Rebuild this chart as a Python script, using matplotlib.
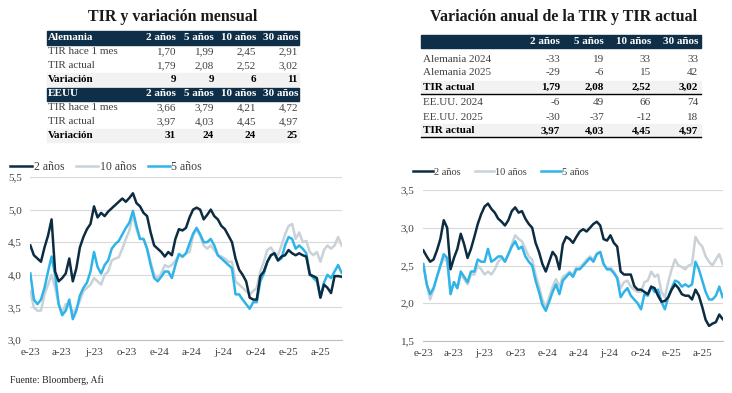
import numpy as np
import pandas as pd
import matplotlib
matplotlib.use('Agg')
import matplotlib.pyplot as plt
from matplotlib.patches import Rectangle
from matplotlib.lines import Line2D

# ---- tables ----
plazos = ['2 años', '5 años', '10 años', '30 años']
ale_hace = [1.70, 1.99, 2.45, 2.91]
ale_actual = [1.79, 2.08, 2.52, 3.02]
ale_var = [9, 9, 6, 11]
us_hace = [3.66, 3.79, 4.21, 4.72]
us_actual = [3.97, 4.03, 4.45, 4.97]
us_var = [31, 24, 24, 25]

ale_2024 = [-33, 19, 33, 33]
ale_2025 = [-29, -6, 15, 42]
us_2024 = [-6, 49, 66, 74]
us_2025 = [-30, -37, -12, 18]

# ---- series (one value every 10 days from 2 Jan 2023) ----
fechas = pd.date_range('2023-01-02', periods=89, freq='10D')

us_2y = [4.45, 4.30, 4.25, 4.20, 4.42, 4.60, 4.85, 4.05, 3.90, 3.95,
         4.02, 4.25, 3.90, 4.10, 4.42, 4.58, 4.70, 4.78, 5.05, 4.88,
         4.95, 4.90, 4.97, 5.02, 5.07, 5.12, 5.17, 5.12, 5.18, 5.25,
         5.10, 5.05, 4.95, 4.90, 4.65, 4.45, 4.40, 4.35, 4.28, 4.35,
         4.30, 4.55, 4.70, 4.68, 4.72, 4.88, 5.00, 5.03, 5.00, 4.85,
         4.92, 5.00, 4.90, 4.85, 4.75, 4.70, 4.60, 4.50, 4.25, 4.08,
         4.00, 3.90, 3.65, 3.62, 3.62, 3.98, 4.05, 4.20, 4.30, 4.33,
         4.22, 4.28, 4.30, 4.38, 4.33, 4.30, 4.33, 4.30, 4.28, 4.00,
         3.98, 3.95, 3.65, 3.85, 3.80, 3.72, 3.98, 3.98, 3.97]
us_5y = [4.02, 3.62, 3.55, 3.62, 3.80, 4.05, 4.28, 4.00, 3.55, 3.38,
         3.45, 3.62, 3.32, 3.45, 3.68, 3.80, 3.88, 4.05, 4.35, 4.12,
         4.02, 4.15, 4.22, 4.40, 4.47, 4.52, 4.62, 4.72, 4.80, 4.98,
         4.75, 4.55, 4.55, 4.40, 4.15, 3.95, 3.90, 3.97, 4.05, 4.05,
         3.95, 4.15, 4.32, 4.28, 4.33, 4.48, 4.63, 4.72, 4.62, 4.50,
         4.50, 4.55, 4.45, 4.30, 4.25, 4.20, 4.15, 4.10, 3.70, 3.70,
         3.62, 3.55, 3.48, 3.58, 3.58, 3.90, 4.02, 4.20, 4.30, 4.33,
         4.22, 4.25, 4.45, 4.58, 4.55, 4.40, 4.45, 4.40, 4.33, 4.02,
         3.95, 3.90, 3.65, 3.88, 4.00, 3.95, 4.05, 4.15, 4.03]
us_10y = [3.75, 3.50, 3.45, 3.45, 3.70, 3.85, 4.00, 3.80, 3.55, 3.42,
          3.55, 3.55, 3.42, 3.48, 3.60, 3.75, 3.80, 3.85, 3.95, 3.90,
          3.85, 4.00, 4.05, 4.22, 4.25, 4.27, 4.40, 4.55, 4.68, 4.93,
          4.70, 4.55, 4.55, 4.40, 4.20, 4.00, 3.95, 4.02, 4.15, 4.12,
          4.15, 4.22, 4.30, 4.27, 4.33, 4.35, 4.60, 4.70, 4.60, 4.45,
          4.40, 4.45, 4.38, 4.30, 4.28, 4.25, 4.20, 4.20, 3.90, 3.85,
          3.80, 3.75, 3.70, 3.75, 3.80, 4.05, 4.20, 4.38, 4.42, 4.33,
          4.30, 4.45, 4.62, 4.75, 4.78, 4.55, 4.65, 4.50, 4.52, 4.35,
          4.30, 4.35, 4.20, 4.38, 4.45, 4.40, 4.45, 4.58, 4.45]

de_2y = [2.70, 2.62, 2.55, 2.58, 2.70, 2.85, 3.10, 3.00, 2.45, 2.60,
         2.72, 2.92, 2.78, 2.60, 2.72, 2.88, 3.05, 3.18, 3.28, 3.32,
         3.25, 3.20, 3.12, 3.08, 3.03, 3.10, 3.22, 3.27, 3.20, 3.22,
         3.12, 3.05, 3.00, 2.80, 2.68, 2.52, 2.42, 2.55, 2.68, 2.62,
         2.45, 2.78, 2.88, 2.85, 2.80, 2.88, 2.95, 2.98, 2.95, 3.00,
         3.05, 3.08, 3.03, 2.85, 2.83, 2.90, 2.80, 2.75, 2.42, 2.38,
         2.38, 2.38, 2.23, 2.18, 2.18, 2.15, 2.12, 2.22, 2.20, 2.10,
         2.02, 2.03, 2.08, 2.18, 2.25, 2.20, 2.12, 2.10, 2.10, 2.05,
         2.18, 2.10, 1.95, 1.78, 1.70, 1.73, 1.75, 1.85, 1.79]
de_5y = [2.52, 2.25, 2.12, 2.20, 2.35, 2.50, 2.65, 2.60, 2.12, 2.28,
         2.20, 2.42, 2.35, 2.28, 2.42, 2.42, 2.58, 2.55, 2.55, 2.72,
         2.55, 2.58, 2.62, 2.62, 2.55, 2.65, 2.75, 2.82, 2.72, 2.75,
         2.62, 2.55, 2.50, 2.30, 2.15, 1.98, 1.90, 2.02, 2.15, 2.25,
         2.12, 2.30, 2.35, 2.40, 2.35, 2.45, 2.45, 2.50, 2.55, 2.60,
         2.55, 2.65, 2.68, 2.52, 2.45, 2.45, 2.40, 2.33, 2.08, 2.15,
         2.20, 2.10, 2.05, 2.00, 1.92, 2.12, 2.10, 2.22, 2.15, 2.18,
         2.02, 1.92, 2.08, 2.20, 2.30, 2.28, 2.22, 2.25, 2.22, 2.25,
         2.55, 2.45, 2.30, 2.15, 2.05, 2.05, 2.10, 2.22, 2.08]
de_10y = [2.50, 2.25, 2.05, 2.18, 2.35, 2.48, 2.60, 2.55, 2.15, 2.28,
          2.20, 2.38, 2.32, 2.25, 2.38, 2.38, 2.50, 2.45, 2.38, 2.42,
          2.38, 2.45, 2.55, 2.60, 2.55, 2.65, 2.78, 2.90, 2.85, 2.82,
          2.72, 2.62, 2.58, 2.38, 2.22, 2.05, 1.95, 2.08, 2.22, 2.32,
          2.22, 2.35, 2.38, 2.42, 2.38, 2.48, 2.48, 2.52, 2.58, 2.62,
          2.58, 2.66, 2.68, 2.52, 2.45, 2.47, 2.42, 2.35, 2.20, 2.28,
          2.30, 2.22, 2.18, 2.15, 2.15, 2.28, 2.30, 2.42, 2.35, 2.38,
          2.15, 2.08, 2.28, 2.45, 2.58, 2.50, 2.48, 2.45, 2.50, 2.52,
          2.88, 2.80, 2.75, 2.62, 2.55, 2.50, 2.58, 2.65, 2.52]

c_2y = '#0c2c42'
c_10y = '#c9d2d9'
c_5y = '#2fb4e9'
c_head = '#0f2e47'
c_band = '#f2f2f2'
c_txt = '#404040'
serif = 'Liberation Serif'
fs_tab = 8

W, H = 732, 393
fig = plt.figure(figsize=(W / 100, H / 100), dpi=100)


def fx(x):
    return x / W


def fy(y):
    return 1 - y / H


def rect(x0, y0, x1, y1, color):
    fig.patches.append(Rectangle((fx(x0), fy(y1)), fx(x1) - fx(x0), fy(y0) - fy(y1),
                                 transform=fig.transFigure, color=color, zorder=0))


def fmt(v):
    return f'{v:.2f}'.replace('.', ',')


# ---- left table ----
fig.text(fx(173), fy(17), 'TIR y variación mensual', ha='center', va='center',
         fontsize=11.5, fontweight='bold', family=serif, color='#1a1a1a')
cols_l = [176, 214, 256, 298]
bloques = [('Alemania', ale_hace, ale_actual, ale_var, 38),
           ('EEUU', us_hace, us_actual, us_var, 94)]
for nombre, hace, actual, var, yh in bloques:
    rect(47, yh - 6.5, 299, yh + 6.5, c_head)
    fig.text(fx(48), fy(yh), nombre, ha='left', va='center', fontsize=fs_tab,
             fontweight='bold', family=serif, color='white')
    for c, p in zip(cols_l, plazos):
        fig.text(fx(c), fy(yh), p, ha='right', va='center', fontsize=fs_tab,
                 fontweight='bold', family=serif, color='white')
    rect(47, yh + 35, 299, yh + 48, c_band)
    filas = [('TIR hace 1 mes', [fmt(v) for v in hace], 'normal', c_txt, yh + 14),
             ('TIR actual', [fmt(v) for v in actual], 'normal', c_txt, yh + 28),
             ('Variación', [str(v) for v in var], 'bold', 'black', yh + 41.5)]
    for lab, vals, fw, col, yy in filas:
        fig.text(fx(48), fy(yy), lab, ha='left', va='center', fontsize=fs_tab,
                 fontweight=fw, family=serif, color=col)
        for c, v in zip(cols_l, vals):
            fig.text(fx(c), fy(yy), v, ha='right', va='center', fontsize=fs_tab,
                     fontweight=fw, family=serif, color=col)

# ---- right table ----
fig.text(fx(564), fy(17), 'Variación anual de la TIR y TIR actual', ha='center',
         va='center', fontsize=11.5, fontweight='bold', family=serif, color='#1a1a1a')
cols_r = [560, 604, 651, 698]
rect(421, 35, 701, 48, c_head)
for c, p in zip(cols_r, plazos):
    fig.text(fx(c), fy(41.5), p, ha='right', va='center', fontsize=fs_tab,
             fontweight='bold', family=serif, color='white')
filas_r = [('Alemania 2024', [str(v) for v in ale_2024], False, 59),
           ('Alemania 2025', [str(v) for v in ale_2025], False, 72.5),
           ('TIR actual', [fmt(v) for v in ale_actual], True, 87),
           ('EE.UU. 2024', [str(v) for v in us_2024], False, 102.5),
           ('EE.UU. 2025', [str(v) for v in us_2025], False, 117),
           ('TIR actual', [fmt(v) for v in us_actual], True, 131)]
for lab, vals, total, yy in filas_r:
    if total:
        rect(421, yy - 6.5, 701, yy + 6.5, c_band)
        fig.add_artist(Line2D([fx(421), fx(701)], [fy(yy + 6.5)] * 2,
                              transform=fig.transFigure, color='black', lw=1.0))
    fw = 'bold' if total else 'normal'
    col = 'black' if total else c_txt
    fig.text(fx(423), fy(yy), lab, ha='left', va='center', fontsize=fs_tab,
             fontweight=fw, family=serif, color=col)
    for c, v in zip(cols_r, vals):
        fig.text(fx(c), fy(yy), v, ha='right', va='center', fontsize=fs_tab,
                 fontweight=fw, family=serif, color=col)

# ---- charts ----
meses = {1: 'e', 4: 'a', 7: 'j', 10: 'o'}
ticks = pd.date_range('2023-01-01', '2025-04-01', freq='QS')
ticklabels = [f"{meses[t.month]}-{t.strftime('%y')}" for t in ticks]


def grafico(ax, y2, y5, y10, ymin, ymax, fs_leg, leg_pos, hl, cs):
    ax.plot(fechas, y10, color=c_10y, lw=1.8, label='10 años', zorder=2)
    ax.plot(fechas, y5, color=c_5y, lw=1.8, label='5 años', zorder=3)
    ax.plot(fechas, y2, color=c_2y, lw=1.8, label='2 años', zorder=4)
    ax.set_ylim(ymin, ymax)
    yt = np.arange(ymin, ymax + 0.01, 0.5)
    ax.set_yticks(yt)
    ax.set_yticklabels([f'{v:.1f}'.replace('.', ',') for v in yt])
    ax.set_xlim(pd.Timestamp('2023-01-01'), pd.Timestamp('2025-06-01'))
    ax.set_xticks(ticks)
    ax.set_xticklabels(ticklabels)
    ax.grid(axis='y', color='#d9d9d9', lw=0.8)
    ax.set_axisbelow(True)
    for s in ['top', 'right', 'left']:
        ax.spines[s].set_visible(False)
    ax.spines['bottom'].set_color('#bfbfbf')
    ax.tick_params(length=0, labelsize=8, colors='#404040', pad=6)
    for lab in ax.get_xticklabels() + ax.get_yticklabels():
        lab.set_family(serif)
    h, l = ax.get_legend_handles_labels()
    orden = [2, 0, 1]
    ax.legend([h[i] for i in orden], [l[i] for i in orden], loc='center left',
              bbox_to_anchor=leg_pos, bbox_transform=fig.transFigure, ncol=3,
              frameon=False, borderpad=0, borderaxespad=0, handlelength=hl,
              handletextpad=0.1, columnspacing=cs,
              prop={'family': serif, 'size': fs_leg}, labelcolor='#404040')


ax1 = fig.add_axes([fx(30), fy(340), fx(342) - fx(30), fy(177) - fy(340)])
grafico(ax1, us_2y, us_5y, us_10y, 3.0, 5.5, 8.5, (fx(10), fy(167)), 1.9, 1.0)

ax2 = fig.add_axes([fx(423), fy(341), fx(723) - fx(423), fy(190) - fy(341)])
grafico(ax2, de_2y, de_5y, de_10y, 1.5, 3.5, 7.5, (fx(413), fy(172)), 1.9, 1.35)

fig.text(fx(10), fy(380), 'Fuente: Bloomberg, Afi', ha='left', va='center',
         fontsize=7, family=serif, color='#262626')

fig.savefig('out.png', dpi=100)
